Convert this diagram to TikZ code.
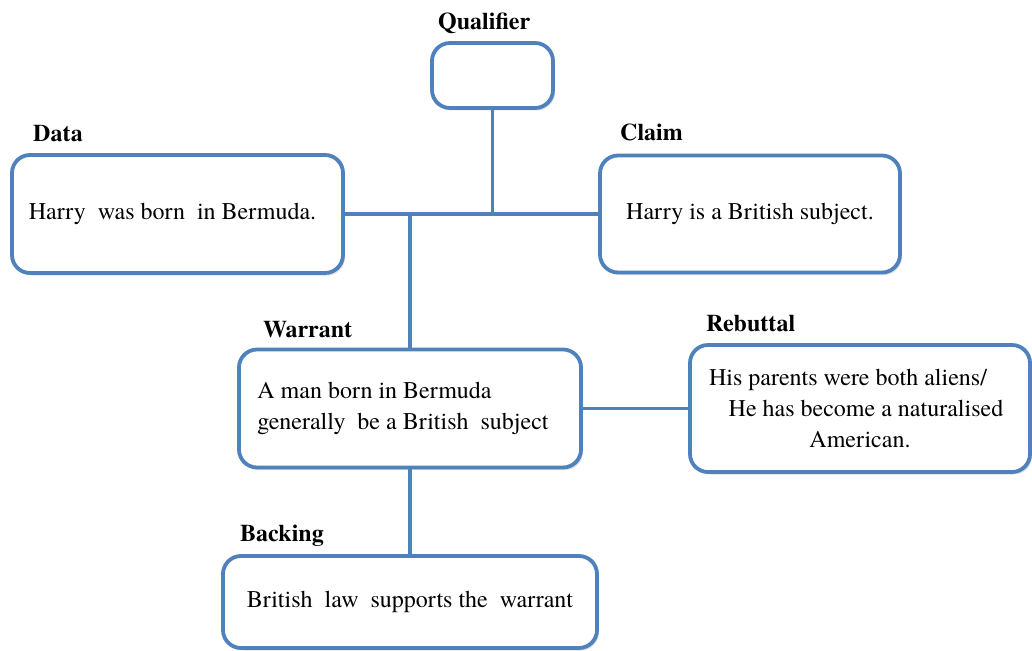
\documentclass[tikz,border=0pt]{standalone}
\usepackage{fontspec}
\setmainfont{TeX Gyre Termes}
\usetikzlibrary{shadows}
\definecolor{boxblue}{HTML}{4F81BD}
\begin{document}
\begin{tikzpicture}[x=1pt,y=-1pt,
  tbox/.style={draw=boxblue, line width=3.8pt, rounded corners=18pt, fill=white,
    drop shadow={opacity=0.25, shadow xshift=2pt, shadow yshift=-2.5pt},
    font=\fontsize{24}{31}\selectfont, inner sep=0pt},
  lbl/.style={font=\fontsize{24}{26}\selectfont\bfseries, anchor=base west, inner sep=0pt},
  conn/.style={draw=boxblue, line width=3.8pt}]
\useasboundingbox (0,0) rectangle (1032,650);
% boxes
\node[tbox, minimum width=121pt, minimum height=65pt] (q) at (492.5,75.5) {};
\node[tbox, minimum width=331pt, minimum height=118pt] (d) at (177.5,214) {Harry\ \ was born\ \ in Bermuda.\hspace{10pt}\mbox{}};
\node[tbox, minimum width=300pt, minimum height=117pt] (c) at (750,214) {Harry is a British subject.};
\node[tbox, minimum width=342pt, minimum height=118pt, align=left] (w) at (410,408.5) {A man born in Bermuda\\generally\ \ be a British\ \ subject\hspace{14pt}\mbox{}};
\node[tbox, minimum width=340pt, minimum height=127pt, align=center] (r) at (860,408.5) {His parents were both aliens/\hspace{24pt}\mbox{}\\\ \ He has become a naturalised\\American.};
\node[tbox, minimum width=374pt, minimum height=92pt] (b) at (410,602) {British\ \ law\ \ supports the\ \ warrant};
% labels
\node[lbl] (lq) at (438,30) {Qualifier};
\node[lbl] (ld) at (33,141) {Data};
\node[lbl] (lc) at (620,140) {Claim};
\node[lbl] (lw) at (263,337) {Warrant};
\node[lbl] (lr) at (706,331) {Rebuttal};
\node[lbl] (lb) at (240,541) {Backing};
% junctions
\coordinate (j1) at (q.south |- d.east);
\coordinate (j2) at (w.north |- d.east);
% connectors
\draw[conn] (d.east) -- (c.west);
\draw[conn] (q.south) -- (j1);
\draw[conn] (j2) -- (w.north);
\draw[conn] (w.east) -- (r.west);
\draw[conn] (w.south) -- (b.north);
\end{tikzpicture}
\end{document}
